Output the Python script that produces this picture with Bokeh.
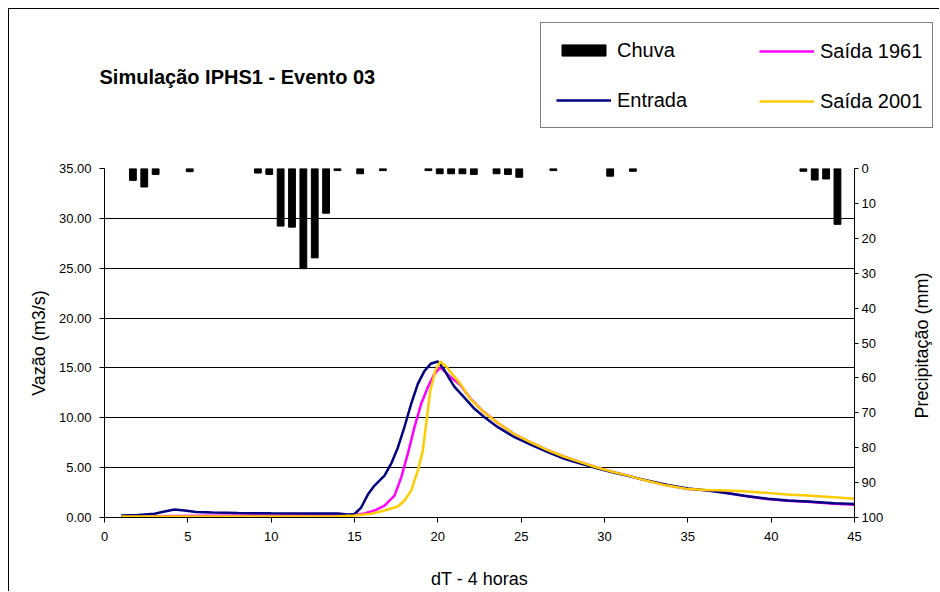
from bokeh.plotting import figure
from bokeh.layouts import column, row
from bokeh.models import (Range1d, LinearAxis, Legend, LegendItem, Label,
                          FixedTicker, NumeralTickFormatter, ColumnDataSource)
from bokeh.embed import file_html
from bokeh.resources import INLINE

# ---------------- data ----------------
# rain per interval (66 intervals spanning the 45 time steps), mm
chuva_mm = [0, 0, 3.4, 5.3, 1.7, 0, 0, 0.9, 0, 0,
            0, 0, 0, 1.3, 1.7, 16.5, 16.8, 28.7, 25.6, 12.8,
            0.6, 0, 1.5, 0, 0.6, 0, 0, 0, 0.6, 1.5,
            1.5, 1.5, 1.7, 0, 1.5, 1.7, 2.5, 0, 0, 0.6,
            0, 0, 0, 0, 2.2, 0, 0.8, 0, 0, 0,
            0, 0, 0, 0, 0, 0, 0, 0, 0, 0,
            0, 0.8, 3.3, 3.0, 16.0, 0]
chuva_intervalo = list(range(1, 67))

entrada_t = [1, 2, 3, 3.6, 4.2, 4.8, 5.5, 6.5, 8, 10, 12, 14, 14.6, 15.0, 15.4, 15.8,
             16.2, 16.8, 17.2, 17.6, 18.0, 18.4, 18.8, 19.2, 19.6, 20.0, 20.35, 20.7,
             21.0, 21.5, 22.2, 22.8, 23.6, 24.6, 25.6, 26.6, 27.6, 28.6, 29.6, 30.6,
             31.6, 32.2, 33.8, 35.0, 36.2, 37.4, 38.6, 39.8, 41.0, 42.2, 43.8, 45]
entrada_q = [0.2, 0.25, 0.37, 0.6, 0.8, 0.7, 0.55, 0.5, 0.45, 0.42, 0.4, 0.4, 0.3, 0.35,
             1.0, 2.3, 3.2, 4.2, 5.4, 7.0, 9.1, 11.4, 13.4, 14.7, 15.45, 15.65, 14.9,
             13.9, 13.1, 12.2, 10.9, 10.06, 9.06, 8.05, 7.29, 6.55, 5.88, 5.38, 4.9,
             4.48, 4.1, 3.85, 3.25, 2.9, 2.7, 2.44, 2.14, 1.87, 1.7, 1.6, 1.44, 1.35]

saida1961_t = [1, 3, 6, 10, 14, 14.8, 15.6, 16.2, 16.8, 17.4, 17.8, 18.2, 18.6, 19.0,
               19.4, 19.8, 20.15, 20.75, 21.35, 21.95, 22.75, 23.55, 24.55, 25.55,
               26.55, 27.55, 28.55, 29.55, 30.55, 31.55, 32.15, 33.75, 34.95, 36.15,
               37.35, 38.55, 39.75, 40.95, 42.15, 43.75, 45]
saida1961_q = [0.1, 0.12, 0.18, 0.2, 0.2, 0.22, 0.4, 0.7, 1.2, 2.2, 4.0, 6.4, 9.06,
               11.4, 13.07, 14.4, 15.05, 14.1, 13.3, 11.95, 10.6, 9.56, 8.4, 7.55,
               6.79, 6.12, 5.55, 5.02, 4.55, 4.15, 3.85, 3.22, 2.87, 2.72, 2.45, 2.12,
               1.85, 1.68, 1.57, 1.38, 1.28]

saida2001_t = [1, 5, 10, 14, 15, 16, 16.8, 17.6, 18.0, 18.4, 18.8, 19.1, 19.35, 19.55,
               19.85, 20.15, 20.55, 20.75, 21.35, 21.95, 22.75, 23.55, 24.55, 25.55,
               26.55, 27.55, 28.55, 29.55, 30.55, 31.55, 32.15, 33.75, 34.95, 36.15,
               37.35, 38.55, 39.75, 40.95, 42.15, 43.75, 45]
saida2001_q = [0.1, 0.1, 0.1, 0.12, 0.2, 0.37, 0.7, 1.1, 1.7, 2.7, 4.7, 6.7, 10.06,
               12.74, 14.74, 15.65, 15.07, 14.6, 13.4, 11.9, 10.56, 9.56, 8.4, 7.55,
               6.79, 6.12, 5.55, 5.02, 4.55, 4.15, 3.85, 3.2, 2.87, 2.77, 2.7, 2.6,
               2.47, 2.3, 2.2, 2.04, 1.87]

x_ticks = [0, 5, 10, 15, 20, 25, 30, 35, 40, 45]
vazao_ticks = [0, 5, 10, 15, 20, 25, 30, 35]
precip_ticks = [0, 10, 20, 30, 40, 50, 60, 70, 80, 90, 100]

FONT = "Liberation Sans"
C_CHUVA, C_ENT, C_61, C_01 = "black", "#000080", "#FF00FF", "#FFCC00"

rain_src = ColumnDataSource(data=dict(
    k=[c for c, v in zip(chuva_intervalo, chuva_mm) if v > 0],
    mm=[v for v in chuva_mm if v > 0]))


def blank(w, h):
    # helper figure whose data ranges lie away from all the series, used only
    # to hold screen-positioned texts and the legend
    f = figure(width=w, height=h, output_backend="svg", toolbar_location=None,
               x_axis_location=None, y_axis_location=None,
               x_range=Range1d(-200, -100), y_range=Range1d(-200, -100),
               min_border_left=0, min_border_right=0, min_border_top=0,
               min_border_bottom=0, outline_line_color=None,
               background_fill_color="white", border_fill_color="white")
    f.grid.visible = False
    return f


# ---------------- main chart ----------------
p = figure(width=886, height=435, output_backend="svg", toolbar_location=None,
           x_range=Range1d(0, 45), y_range=Range1d(0, 35),
           min_border_left=95, min_border_right=41, min_border_top=12,
           min_border_bottom=74, background_fill_color="white",
           border_fill_color="white", outline_line_color=None)

p.extra_y_ranges = {"precip": Range1d(100, 0)}
p.extra_x_ranges = {"chuva": Range1d(0.5, 66.5)}

p.xaxis.ticker = FixedTicker(ticks=x_ticks)
p.yaxis.ticker = FixedTicker(ticks=vazao_ticks)
p.yaxis.formatter = NumeralTickFormatter(format="0.00")
for ax in (p.xaxis[0], p.yaxis[0]):
    ax.axis_line_color = "black"
    ax.axis_line_width = 1
    ax.major_tick_line_color = "black"
    ax.minor_tick_line_color = None
    ax.major_tick_out = 5
    ax.major_tick_in = 0
    ax.major_label_text_font = FONT
    ax.major_label_text_font_size = "13px"
    ax.major_label_text_color = "black"
    ax.axis_label_text_font = FONT
    ax.axis_label_text_font_size = "18px"
    ax.axis_label_text_font_style = "normal"
    ax.axis_label_text_color = "black"

p.yaxis.axis_label = "Vazão (m3/s)"
p.yaxis.major_label_standoff = 8
p.yaxis.axis_label_standoff = 7
p.xaxis.axis_label = "dT - 4 horas"
p.xaxis.major_label_standoff = 9
p.xaxis.axis_label_standoff = 25

right = LinearAxis(y_range_name="precip", ticker=FixedTicker(ticks=precip_ticks),
                   axis_line_color="black", major_tick_line_color="black",
                   minor_tick_line_color=None, major_tick_out=4, major_tick_in=0,
                   major_label_standoff=3, major_label_text_font=FONT,
                   major_label_text_font_size="13px", major_label_text_color="black")
p.add_layout(right, "right")

p.xgrid.visible = False
p.ygrid.ticker = FixedTicker(ticks=vazao_ticks)
p.ygrid.grid_line_color = "black"
p.ygrid.grid_line_width = 1

p.vbar(x="k", top=0, bottom="mm", width=0.6, source=rain_src,
       x_range_name="chuva", y_range_name="precip",
       fill_color=C_CHUVA, line_color=C_CHUVA, line_width=1)

p.line(saida1961_t, saida1961_q, line_color=C_61, line_width=2.5)
p.line(entrada_t, entrada_q, line_color=C_ENT, line_width=2.5)
p.line(saida2001_t, saida2001_q, line_color=C_01, line_width=2.5)

# ---------------- header: title + legend ----------------
top = blank(930, 147)
g_bar = top.vbar(x="k", top=0, bottom="mm", width=0.6, source=rain_src,
                 fill_color=C_CHUVA, line_color=C_CHUVA)
g_ent = top.line(entrada_t, entrada_q, line_color=C_ENT, line_width=2.5)
g_61 = top.line(saida1961_t, saida1961_q, line_color=C_61, line_width=2.5)
g_01 = top.line(saida2001_t, saida2001_q, line_color=C_01, line_width=2.5)

common = dict(orientation="vertical", padding=15, spacing=26, glyph_width=55,
              glyph_height=14, label_height=24, label_standoff=6, margin=0,
              label_text_font=FONT, label_text_font_size="20px",
              label_text_color="black", border_line_color="black",
              border_line_width=1)
leg1 = Legend(items=[LegendItem(label="Chuva", renderers=[g_bar]),
                     LegendItem(label="Entrada", renderers=[g_ent])],
              location=(531, 28), label_width=300,
              background_fill_color="white", **common)
leg2 = Legend(items=[LegendItem(label="Saída 1961", renderers=[g_61]),
                     LegendItem(label="Saída 2001", renderers=[g_01])],
              location=(735, 28), border_line_alpha=0,
              background_fill_alpha=0, **common)
top.add_layout(leg1, "center")
top.add_layout(leg2, "center")
top.add_layout(Label(x=90, y=80, x_units="screen", y_units="screen",
                     text="Simulação IPHS1 - Evento 03", text_font=FONT,
                     text_font_size="20px", text_font_style="bold",
                     text_color="black", text_baseline="middle", text_align="left"))

# ---------------- right axis title ----------------
# (this figure's frame is aligned with the main chart's frame by the row layout)
side = blank(44, 435)
side.add_layout(Label(x=26, y=172, x_units="screen", y_units="screen",
                      text="Precipitação (mm)", angle=90, angle_units="deg",
                      text_font=FONT, text_font_size="18px", text_color="black",
                      text_baseline="middle", text_align="center"))

layout = column(top, row(p, side, spacing=0), spacing=0,
                styles={"margin-left": "8px", "margin-top": "8px",
                        "border-left": "1px solid black",
                        "border-top": "1px solid black"})

open("out.html", "w").write(file_html(layout, INLINE))
